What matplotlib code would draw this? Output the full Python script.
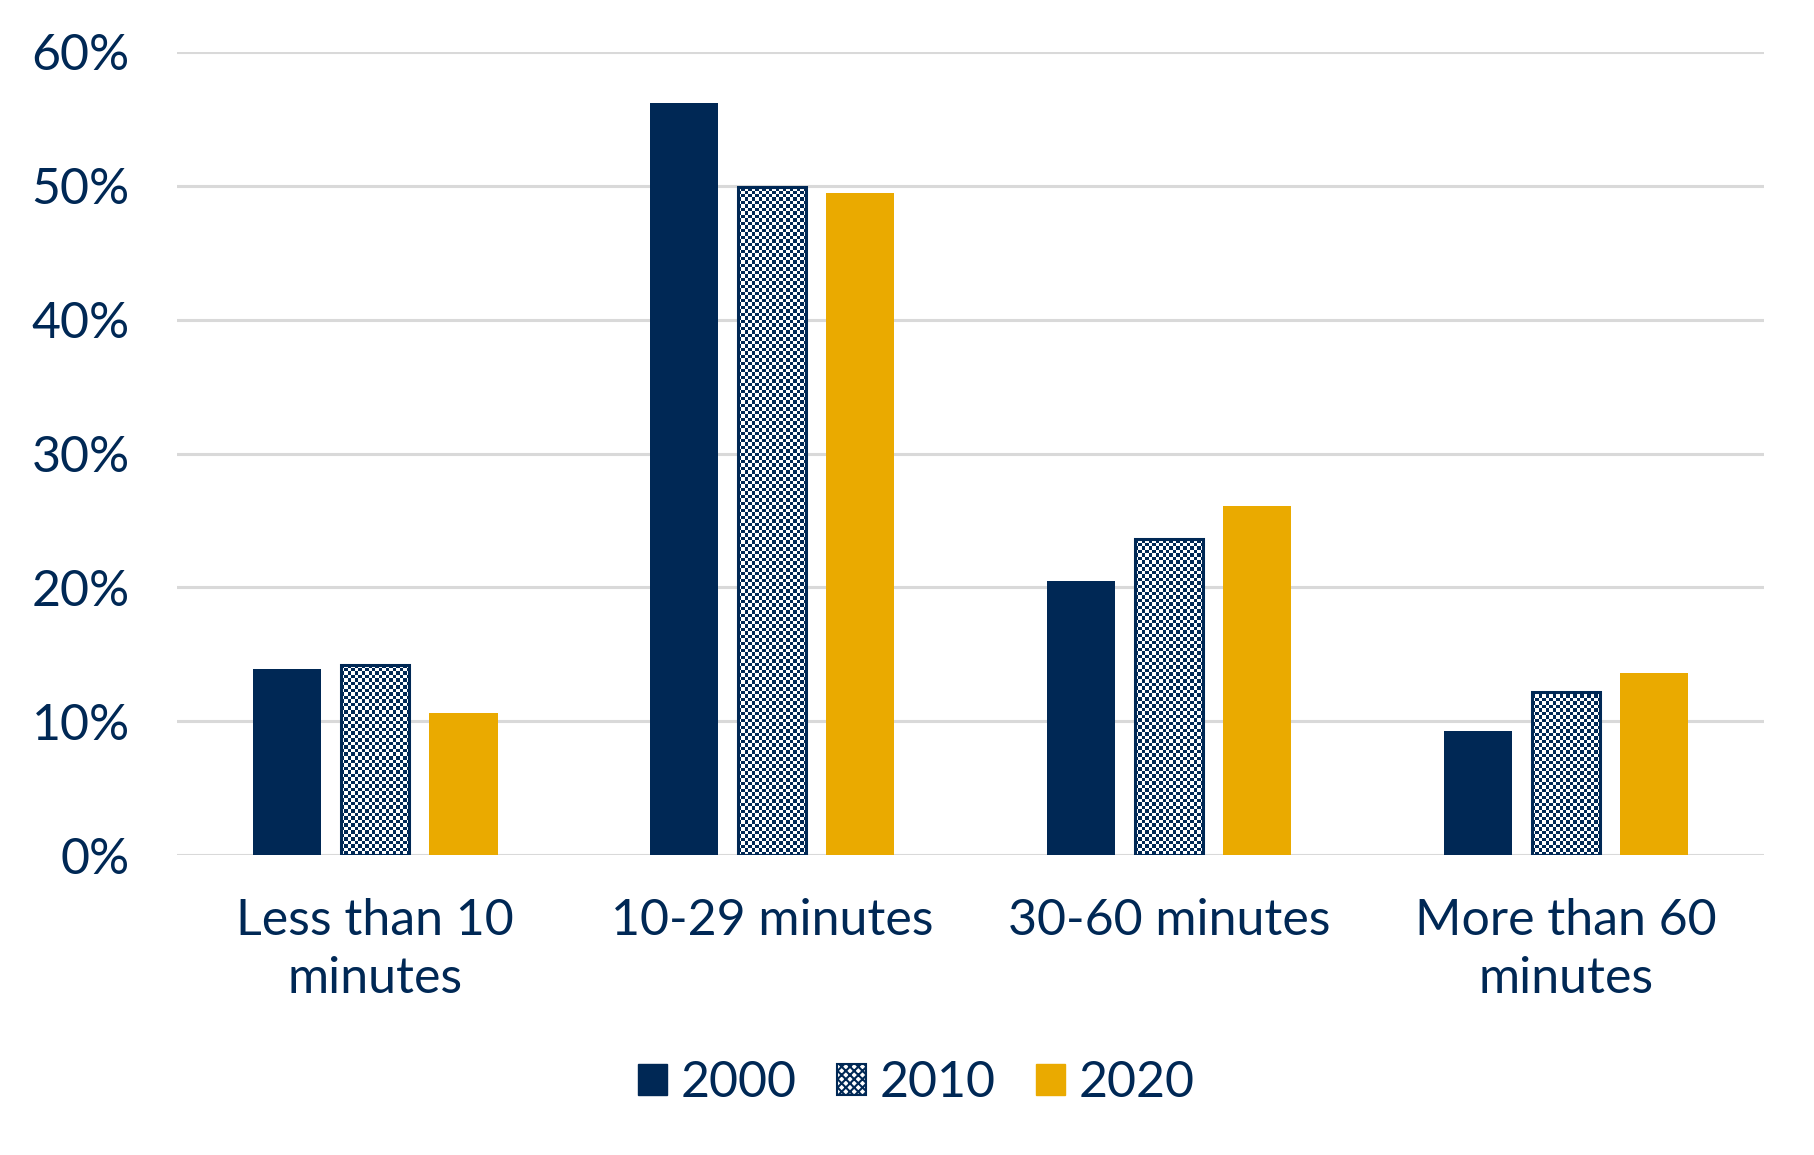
import numpy as np
import matplotlib
matplotlib.use("Agg")
import matplotlib.pyplot as plt
from matplotlib.colors import ListedColormap
from matplotlib.patches import Patch

# 数据
categories = ["Less than 10\nminutes", "10-29 minutes", "30-60 minutes", "More than 60\nminutes"]
series_names = ["2000", "2010", "2020"]
values_2000 = [13.9, 56.2, 20.5, 9.3]
values_2010 = [14.2, 49.9, 23.6, 12.2]
values_2020 = [10.6, 49.5, 26.1, 13.6]
yticks = [0, 10, 20, 30, 40, 50, 60]

NAVY = "#002855"
GOLD = "#EAAA00"
GRID = "#d9d9d9"

plt.rcParams["font.family"] = ["Lato", "DejaVu Sans"]

fig = plt.figure(figsize=(18.15, 11.55), dpi=100)
ax = fig.add_axes([0.0975, 0.2597, 0.8745, 0.6953])

x = np.arange(len(categories))
width = 0.172
step = 0.222

ax.bar(x - step, values_2000, width, color=NAVY, zorder=3)
bars_2010 = ax.bar(x, values_2010, width, color="white", zorder=3)
ax.bar(x + step, values_2020, width, color=GOLD, zorder=3)

ax.set_xlim(-0.5, 3.5)
ax.set_ylim(0, 60)

# 2010 的棋盘格填充
cell = 3.5
cmap = ListedColormap(["white", NAVY])
for p in bars_2010:
    x0, y0, w, h = p.get_x(), p.get_y(), p.get_width(), p.get_height()
    (px0, py0), (px1, py1) = ax.transData.transform([(x0, y0), (x0 + w, y0 + h)])
    ncols = max(1, int(round((px1 - px0) / cell)))
    nrows = max(1, int(round((py1 - py0) / cell)))
    checker = np.add.outer(np.arange(nrows), np.arange(ncols)) % 2
    im = ax.imshow(checker, cmap=cmap, extent=(x0, x0 + w, y0, y0 + h), origin="lower",
                   interpolation="nearest", aspect="auto", zorder=3.1)
    im.set_clip_path(p)
ax.bar(x, values_2010, width, facecolor="none", edgecolor=NAVY, linewidth=2.2, zorder=3.2)

ax.set_xlim(-0.5, 3.5)
ax.set_ylim(0, 60)

ax.set_yticks(yticks)
ax.set_yticklabels([f"{v}%" for v in yticks])
ax.set_xticks(x)
ax.set_xticklabels(categories, linespacing=1.33)
ax.tick_params(axis="y", length=0, pad=34, labelsize=36, labelcolor=NAVY)
ax.tick_params(axis="x", length=0, pad=31, labelsize=36, labelcolor=NAVY)
for s in ax.spines.values():
    s.set_visible(False)
ax.yaxis.grid(True, color=GRID, linewidth=2.2, zorder=0)
ax.set_axisbelow(True)

plt.rcParams["hatch.linewidth"] = 1.5
handles = [
    Patch(facecolor=NAVY, edgecolor=NAVY),
    Patch(facecolor="white", edgecolor=NAVY, hatch="xxxx", linewidth=1.5),
    Patch(facecolor=GOLD, edgecolor=GOLD),
]
leg = fig.legend(handles, series_names, loc="center", bbox_to_anchor=(0.505, 0.062), ncol=3,
                 frameon=False, fontsize=36, handlelength=0.58, handleheight=0.58,
                 handletextpad=0.28, columnspacing=0.8)
for t in leg.get_texts():
    t.set_color(NAVY)

fig.savefig("out.png", dpi=100)
